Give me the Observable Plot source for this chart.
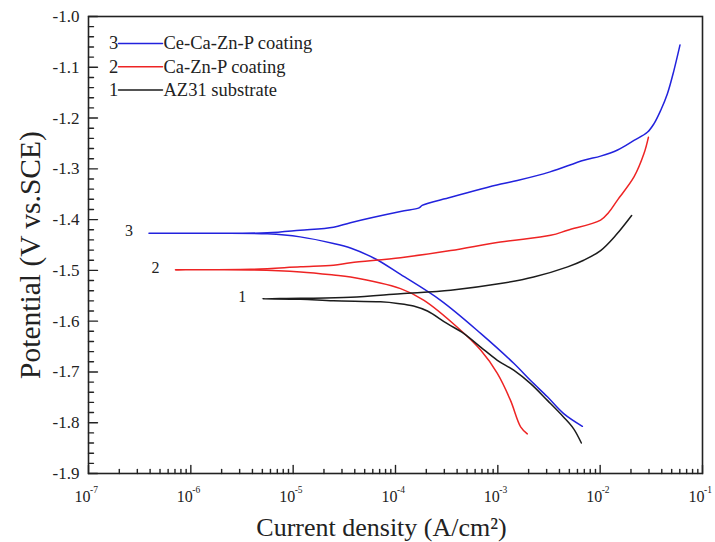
<!DOCTYPE html>
<html><head><meta charset="utf-8">
<script src="https://cdn.jsdelivr.net/npm/d3@7"></script>
<script src="https://cdn.jsdelivr.net/npm/@observablehq/plot@0.6"></script>
<style>
html,body{margin:0;padding:0;background:#fff;}
#chart svg{display:block;}
</style></head><body><div id="chart"></div>
<script>
// Series (order in legend: 3, 2, 1)
const seriesLabels = ["3", "2", "1"];
const seriesNames = ["Ce-Ca-Zn-P coating", "Ca-Zn-P coating", "AZ31 substrate"];
const seriesColors = ["#2222dd", "#ee2424", "#1c1c1c"];

// Curve 3: Ce-Ca-Zn-P coating (cathodic end -> Ecorr -> anodic end)
const ceCurrent = [6.70e-3, 4.40e-3, 3.05e-3, 2.09e-3, 1.43e-3, 6.79e-4, 2.76e-4, 1.12e-4, 6.46e-5, 3.63e-5, 2.48e-5, 1.17e-5, 5.6e-6, 1.26e-6, 3.9e-7,
  1.26e-6, 5.6e-6, 1.17e-5, 2.48e-5, 3.63e-5, 1.12e-4, 1.70e-4, 1.82e-4, 3.47e-4, 1.07e-3, 1.55e-3, 3.24e-3, 6.92e-3, 1.01e-2, 1.48e-2, 2.14e-2, 2.89e-2, 3.36e-2, 3.90e-2, 4.54e-2, 5.26e-2, 6.03e-2];
const cePotential = [-1.807, -1.782, -1.749, -1.717, -1.683, -1.624, -1.559, -1.508, -1.478, -1.456, -1.447, -1.434, -1.428, -1.427, -1.427,
  -1.427, -1.426, -1.421, -1.415, -1.406, -1.384, -1.377, -1.372, -1.356, -1.330, -1.323, -1.306, -1.283, -1.275, -1.263, -1.244, -1.228, -1.211, -1.185, -1.152, -1.106, -1.056];

// Curve 2: Ca-Zn-P coating
const caCurrent = [1.94e-3, 1.67e-3, 1.33e-3, 9.89e-4, 6.79e-4, 4.02e-4, 1.90e-4, 1.12e-4, 3.64e-5, 2.48e-5, 1.18e-5, 3.84e-6, 7.08e-7,
  3.84e-6, 1.18e-5, 2.48e-5, 3.64e-5, 1.12e-4, 3.46e-4, 1.06e-3, 3.28e-3, 4.81e-3, 1.01e-2, 1.21e-2, 1.47e-2, 2.14e-2, 2.68e-2, 2.96e-2];
const caPotential = [-1.822, -1.808, -1.756, -1.703, -1.657, -1.612, -1.559, -1.536, -1.513, -1.509, -1.503, -1.499, -1.499,
  -1.498, -1.493, -1.490, -1.485, -1.475, -1.461, -1.444, -1.431, -1.421, -1.401, -1.386, -1.362, -1.316, -1.270, -1.238];

// Curve 1: AZ31 substrate
const azCurrent = [6.55e-3, 5.51e-3, 4.40e-3, 3.05e-3, 2.09e-3, 1.44e-3, 9.89e-4, 6.79e-4, 4.63e-4, 3.21e-4, 2.05e-4, 1.50e-4, 1.05e-4, 7.14e-5, 2.48e-5, 1.18e-5, 4.99e-6,
  1.18e-5, 3.64e-5, 1.12e-4, 3.46e-4, 1.06e-3, 2.24e-3, 4.81e-3, 6.90e-3, 1.01e-2, 1.42e-2, 2.03e-2];
const azPotential = [-1.840, -1.812, -1.789, -1.756, -1.723, -1.697, -1.677, -1.651, -1.624, -1.605, -1.580, -1.570, -1.565, -1.562, -1.560, -1.557, -1.556,
  -1.555, -1.553, -1.546, -1.539, -1.526, -1.513, -1.493, -1.480, -1.461, -1.431, -1.392];

// Axis ticks
const xTickExponents = [-7, -6, -5, -4, -3, -2, -1];
const yTicks = [-1.0, -1.1, -1.2, -1.3, -1.4, -1.5, -1.6, -1.7, -1.8, -1.9];
const xLabel = "Current density (A/cm\u00B2)";
const yLabel = "Potential (V vs.SCE)";

// Build tables
const curves = [
  {label: seriesLabels[0], color: seriesColors[0], rows: ceCurrent.map((c, i) => ({I: c, E: cePotential[i]}))},
  {label: seriesLabels[1], color: seriesColors[1], rows: caCurrent.map((c, i) => ({I: c, E: caPotential[i]}))},
  {label: seriesLabels[2], color: seriesColors[2], rows: azCurrent.map((c, i) => ({I: c, E: azPotential[i]}))}
];
const xMajor = xTickExponents.map(e => Math.pow(10, e));
const xMinor = [];
xTickExponents.slice(0, -1).forEach(e => { for (let k = 2; k <= 9; k++) xMinor.push(k * Math.pow(10, e)); });
const yMinor = d3.range(0, 46).map(i => -1.9 + i * 0.02).filter(v => Math.abs(Math.round(v * 10) - v * 10) > 0.01);

const W = 715, H = 542, mL = 88, mT = 16, mR = 13, mB = 69;
const ink = "#222";
const lineShape = {draw(context, l) { context.moveTo(0, 0); context.lineTo(0, -l); }};
const FONT = "'Liberation Serif', 'Times New Roman', serif";

const marks = [
  Plot.frame({stroke: ink, strokeWidth: 1.6}),
  // inward ticks
  Plot.vector(xMajor, {x: d => d, frameAnchor: "bottom", length: 8, rotate: 0, anchor: "start", shape: lineShape, stroke: ink, strokeWidth: 1.4}),
  Plot.vector(xMinor, {x: d => d, frameAnchor: "bottom", length: 4, rotate: 0, anchor: "start", shape: lineShape, stroke: ink, strokeWidth: 1.4}),
  Plot.vector(yTicks, {y: d => d, frameAnchor: "left", length: 9, rotate: 90, anchor: "start", shape: lineShape, stroke: ink, strokeWidth: 1.4}),
  Plot.vector(yMinor, {y: d => d, frameAnchor: "left", length: 5, rotate: 90, anchor: "start", shape: lineShape, stroke: ink, strokeWidth: 1.4}),
  // tick labels
  Plot.text(yTicks, {y: d => d, text: d => d.toFixed(1), frameAnchor: "left", dx: -9, textAnchor: "end", lineAnchor: "middle", fontSize: 17, fill: ink}),
  Plot.text(xTickExponents, {x: e => Math.pow(10, e), text: () => "10", frameAnchor: "bottom", dx: -6, dy: 28, textAnchor: "middle", lineAnchor: "bottom", fontSize: 16, fill: ink}),
  Plot.text(xTickExponents, {x: e => Math.pow(10, e), text: e => String(e), frameAnchor: "bottom", dx: 1.5, dy: 19, textAnchor: "start", lineAnchor: "bottom", fontSize: 9.5, fill: ink}),
  // axis titles
  Plot.text([xLabel], {frameAnchor: "bottom", text: d => d, dx: -14, dy: 62, textAnchor: "middle", lineAnchor: "bottom", fontSize: 26, fill: ink}),
  Plot.text([yLabel], {frameAnchor: "left", text: d => d, rotate: -90, dx: -58, dy: 10, textAnchor: "middle", lineAnchor: "middle", fontSize: 29.5, fill: ink}),
];

// curves
curves.forEach(c => {
  marks.push(Plot.line(c.rows, {x: "I", y: "E", stroke: c.color, strokeWidth: 1.5, curve: "catmull-rom"}));
});
// curve number labels at the leftmost (Ecorr) point
curves.forEach(c => {
  const left = c.rows.reduce((a, b) => (b.I < a.I ? b : a));
  marks.push(Plot.text([left], {x: "I", y: "E", text: () => c.label, dx: -20, dy: -2, fontSize: 16, fill: ink}));
});
// legend (top-left inside frame)
seriesNames.forEach((name, i) => {
  const dy = 27 + 23.3 * i;
  marks.push(Plot.text([seriesLabels[i]], {frameAnchor: "top-left", text: d => d, dx: 25, dy, textAnchor: "middle", lineAnchor: "middle", fontSize: 18.5, fill: ink}));
  marks.push(Plot.vector([0], {frameAnchor: "top-left", dx: 30, dy, length: 44, rotate: 90, anchor: "start", shape: lineShape, stroke: seriesColors[i], strokeWidth: 1.5}));
  marks.push(Plot.text([name], {frameAnchor: "top-left", text: d => d, dx: 75, dy, textAnchor: "start", lineAnchor: "middle", fontSize: 18.5, fill: ink}));
});

const chart = Plot.plot({
  width: W, height: H,
  marginLeft: mL, marginTop: mT, marginRight: mR, marginBottom: mB,
  x: {type: "log", domain: [1e-7, 1e-1], axis: null},
  y: {domain: [-1.9, -1.0], axis: null},
  style: {fontFamily: FONT, background: "#fff", color: ink},
  marks
});
document.getElementById("chart").appendChild(chart);
</script></body></html>
